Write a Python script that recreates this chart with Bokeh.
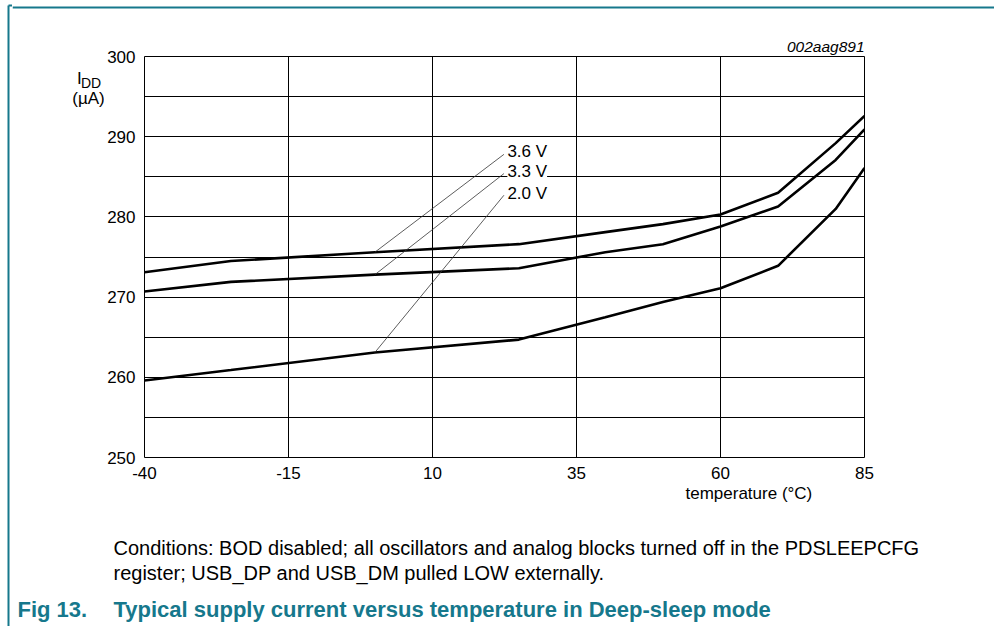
from bokeh.plotting import figure
from bokeh.layouts import column, row
from bokeh.models import Range1d, FixedTicker, LabelSet, ColumnDataSource, Title
from bokeh.core.properties import value
from bokeh.embed import file_html
from bokeh.resources import INLINE
import numpy as np

# ---- data ----
temps = [-40, -25, 0, 25, 40, 50, 60, 70, 80, 85]
i_36 = [273.1, 274.5, 275.6, 276.6, 278.1, 279.1, 280.3, 283.0, 289.2, 292.6]
i_33 = [270.7, 271.9, 272.8, 273.6, 275.6, 276.6, 278.8, 281.3, 287.1, 290.9]
i_20 = [259.6, 260.9, 263.1, 264.7, 267.5, 269.4, 271.1, 273.9, 281.0, 286.1]

x_ticks = [-40, -15, 10, 35, 60, 85]
x_tick_labels = ["-40", "-15", "10", "35", "60", "85"]
y_ticks = [250, 260, 270, 280, 290, 300]
y_minor = [255, 265, 275, 285, 295]

series_names = ["3.6 V", "3.3 V", "2.0 V"]
label_temp = 23.0
label_current = [288.1, 285.6, 282.9]
leader_start_temp = 22.4
leader_start_current = [287.8, 285.4, 282.7]
leader_end_temp = 0.0

FONT = "Liberation Sans"
TEAL = "#16788c"

W = 994
H = 626
RULE_W = 12
TOP_H = 10
MAIN_H = 507
CAP_H = H - TOP_H - MAIN_H
LEFT_W = 104 - RULE_W
MAIN_W = W - 104
FRAME_TOP = 46
FRAME_BOTTOM = MAIN_H - FRAME_TOP - 401


def blank(width, height, x0, x1, y_top, y_bottom, bt=0, bb=0):
    """A figure whose ranges are page pixels (y grows downwards)."""
    f = figure(width=width, height=height, x_range=Range1d(x0, x1),
               y_range=Range1d(y_bottom, y_top), x_axis_type=None, y_axis_type=None,
               output_backend="svg", toolbar_location=None,
               min_border_left=0, min_border_right=0,
               min_border_top=bt, min_border_bottom=bb)
    f.outline_line_color = None
    f.background_fill_color = "white"
    f.border_fill_color = "white"
    f.xgrid.visible = False
    f.ygrid.visible = False
    return f


def txt(f, x, y, text, size="17px", align="left", style="normal", color="black"):
    f.text(x=[x], y=[y], text=[text], text_font=value(FONT), text_font_size=size,
           text_align=align, text_baseline="middle", text_font_style=style,
           text_color=color)


# ---- narrow full-height strip with the teal left rule ----
rule = blank(RULE_W, H, 0, RULE_W, 0, H)
rule.segment(x0=[8, 8], y0=[5, 5], x1=[8, RULE_W], y1=[H, 5], line_color=TEAL, line_width=2)

# ---- top strip with the teal top rule ----
top = blank(W - RULE_W, TOP_H, RULE_W, W, 0, TOP_H)
top.segment(x0=[RULE_W], y0=[5], x1=[W], y1=[5], line_color=TEAL, line_width=2)

# ---- left strip: y-axis title (frame aligned with the chart frame: page y 56..457) ----
left = blank(LEFT_W, MAIN_H, RULE_W, 104, 56, 457, bt=FRAME_TOP, bb=FRAME_BOTTOM)
txt(left, 76.5, 77.5, "I")
txt(left, 80.5, 82.5, "DD", size="14px")
txt(left, 88, 98, "(µA)", align="center")

# ---- main chart ----
p = figure(width=MAIN_W, height=MAIN_H,
           x_range=Range1d(-40, 85), y_range=Range1d(250, 300),
           output_backend="svg", toolbar_location=None,
           min_border_left=38, min_border_right=MAIN_W - 38 - 722,
           min_border_top=FRAME_TOP, min_border_bottom=FRAME_BOTTOM)
p.background_fill_color = "white"
p.border_fill_color = "white"
p.outline_line_color = "black"
p.outline_line_width = 1

p.xaxis.ticker = FixedTicker(ticks=x_ticks)
p.xaxis.major_label_overrides = {t: s for t, s in zip(x_ticks, x_tick_labels)}
p.yaxis.ticker = FixedTicker(ticks=y_ticks, minor_ticks=y_minor)
p.xgrid.ticker = FixedTicker(ticks=x_ticks)
p.ygrid.ticker = FixedTicker(ticks=y_ticks, minor_ticks=y_minor)
p.xgrid.grid_line_color = "black"
p.ygrid.grid_line_color = "black"
p.ygrid.minor_grid_line_color = "black"

for ax in p.axis:
    ax.axis_line_color = None
    ax.major_tick_line_color = None
    ax.minor_tick_line_color = None
    ax.major_tick_out = 0
    ax.major_tick_in = 0
    ax.minor_tick_out = 0
    ax.minor_tick_in = 0
    ax.major_label_text_font = FONT
    ax.major_label_text_font_size = "17px"
    ax.major_label_text_color = "black"
p.xaxis.major_label_standoff = 9
p.yaxis.major_label_standoff = 9

for s in (i_36, i_33, i_20):
    p.line(temps, s, line_color="black", line_width=2.6)

ends = [float(np.interp(leader_end_temp, temps, s)) for s in (i_36, i_33, i_20)]
p.segment(x0=[leader_start_temp] * 3, y0=leader_start_current,
          x1=[leader_end_temp] * 3, y1=ends,
          line_color="#333333", line_width=0.8)

lab_src = ColumnDataSource(dict(x=[label_temp] * 3, y=label_current, text=series_names))
p.add_layout(LabelSet(x="x", y="y", text="text", source=lab_src,
                      text_align="left", text_baseline="middle",
                      text_font=value(FONT), text_font_size=value("17px"),
                      text_color="black",
                      background_fill_color="white", background_fill_alpha=1.0))

p.add_layout(Title(text="002aag891", align="right", offset=0, standoff=4,
                   text_font=FONT, text_font_size="15.5px", text_font_style="italic",
                   text_color="black"), "above")
p.add_layout(Title(text="temperature (°C)", align="left", offset=541, standoff=0,
                   text_font=FONT, text_font_size="17px", text_font_style="normal",
                   text_color="black"), "below")

# ---- captions ----
cap = blank(W - RULE_W, CAP_H, RULE_W, W, TOP_H + MAIN_H, H)
txt(cap, 113, 547, "Conditions: BOD disabled; all oscillators and analog blocks turned off in the PDSLEEPCFG", size="20px")
txt(cap, 113, 572, "register; USB_DP and USB_DM pulled LOW externally.", size="20px")
txt(cap, 17, 609, "Fig 13.", size="22px", style="bold", color=TEAL)
txt(cap, 113, 609, "Typical supply current versus temperature in Deep-sleep mode",
    size="22px", style="bold", color=TEAL)

layout = row(rule, column(top, row(left, p), cap))
open("out.html", "w").write(file_html(layout, INLINE))
